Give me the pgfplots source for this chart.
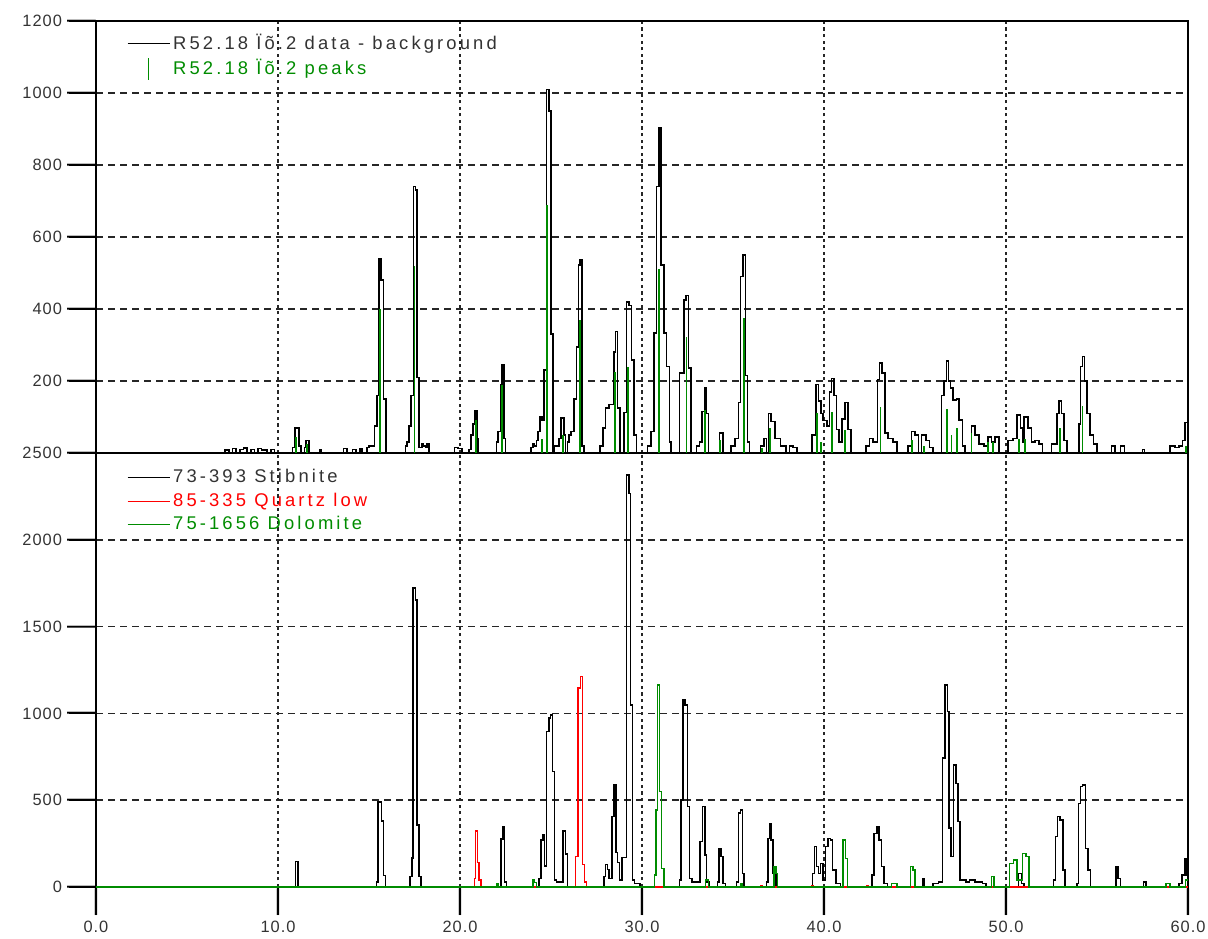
\documentclass[border=0pt]{standalone}
\usepackage{fontspec}
\setmainfont{Liberation Sans}
\newfontfamily\legfont{Liberation Sans}[LetterSpace=17]
\newfontfamily\tickfont{Liberation Sans}[LetterSpace=6]
\newfontfamily\dashfont{Liberation Sans}
\usepackage{pgfplots}
\pgfplotsset{compat=1.18}
\definecolor{pgreen}{RGB}{0,140,0}
\definecolor{pred}{RGB}{255,0,0}
% tick marks carried by the tick labels
\newcommand\ytk[1]{#1\rlap{\hspace{2.6pt}\smash{\raisebox{-0.9pt}{\textcolor{black}{\dashfont\fontsize{14.4}{15}\selectfont —}}}}}
\newcommand\xtk[1]{\setbox0\hbox{#1}\rlap{\hbox to \wd0{\hss\smash{\raisebox{11.6pt}{\textcolor{black}{\dashfont\fontsize{14.25}{15}\selectfont |}}}\hss}}\box0}

\pgfplotsset{
  xrdbase/.style={
    scale only axis, width=546pt, xmin=0, xmax=60,
    axis line style={black, line width=0.8pt},
    every tick/.style={black, line width=0.8pt},
    tick align=outside, major tick length=13.5pt,
    xtick={0,10,...,60}, tick pos=left,
    grid=major,
    x grid style={black!85, line width=0.75pt, dash pattern=on 1.6pt off 1.7pt},
    y grid style={black!85, line width=0.75pt, dash pattern=on 3.7pt off 2.3pt},
    ticklabel style={font=\tickfont\fontsize{8.2}{9.6}\selectfont, text=black!80},
    /pgf/number format/assume math mode=true,
    legend cell align=left,
    legend image code/.code={\draw[#1, line width=0.6pt] (0pt,0pt) -- (21pt,0pt);},
    legend style={draw=none, fill=none, inner sep=0pt, anchor=north west,
      font=\legfont\fontsize{9.2}{10}\selectfont, nodes={inner sep=1.5pt}},
  },
}

\begin{document}
\begin{tikzpicture}
\useasboundingbox (-48pt,-25.5pt) rectangle (556pt,443.5pt);

% ---------------- bottom panel: reference patterns ----------------
\begin{axis}[xrdbase, at={(0pt,0pt)}, anchor=south west, height=217pt,
  ymin=0, ymax=2500, ytick={0,500,...,2500},
  yticklabels={\ytk{0},\ytk{500},\ytk{1000},\ytk{1500},\ytk{2000},\ytk{2500}},
  xticklabels={\xtk{0.0},\xtk{10.0},\xtk{20.0},\xtk{30.0},\xtk{40.0},\xtk{50.0},\xtk{60.0}},
  legend style={at={(0.028,0.970)}, row sep=0.6pt},
]
\addplot[const plot, black, line width=0.75pt] table {
x y
0 0
10.85 0
10.95 146
11.1 0
15.3 0
15.4 30
15.5 490
15.7 380
15.8 65
15.9 0
17.2 0
17.25 60
17.35 167
17.42 1722
17.55 1653
17.65 357
17.75 60
17.85 0
22.15 0
22.25 276
22.35 346
22.45 30
22.55 0
24.3 0
24.35 50
24.45 270
24.55 300
24.65 120
24.75 895
24.88 973
24.98 990
25.08 664
25.18 40
25.3 30
25.65 324
25.8 190
25.9 0
27.85 0
27.9 60
28.0 130
28.1 100
28.2 50
28.35 405
28.47 588
28.56 200
28.65 140
28.75 40
28.9 170
29.15 2373
29.28 2268
29.38 1048
29.48 40
29.6 20
29.9 0
32.0 0
32.05 40
32.15 501
32.25 1078
32.35 1049
32.5 463
32.6 50
32.75 30
33.1 30
33.2 261
33.33 463
33.45 184
33.55 30
33.7 0
34.15 30
34.22 223
34.33 175
34.45 20
34.6 0
35.2 30
35.3 425
35.42 444
35.52 78
35.6 0
36.85 30
36.92 280
37.0 367
37.1 271
37.2 80
37.35 0
39.3 0
39.38 78
39.48 232
39.6 117
39.7 78
39.8 136
39.95 40
40.08 232
40.22 280
40.35 271
40.48 98
40.65 20
40.9 0
42.6 0
42.65 69
42.75 309
42.9 348
43.02 271
43.15 117
43.3 20
43.5 0
45.3 0
45.4 50
45.5 0
46.0 20
46.3 30
46.52 742
46.66 1164
46.78 1010
46.88 339
46.98 175
47.12 703
47.24 597
47.36 376
47.48 40
47.8 30
48.0 40
48.3 30
48.7 20
48.9 0
50.6 0
50.7 78
50.85 20
51.0 0
52.5 0
52.6 40
52.72 290
52.84 405
52.98 386
53.12 98
53.25 0
53.9 20
53.98 482
54.08 578
54.2 588
54.36 223
54.5 98
54.65 0
55.9 0
56.05 117
56.15 50
56.3 0
57.55 30
57.7 0
59.5 20
59.68 69
59.8 165
59.9 69
60 69
};
\addlegendentry{\textcolor{black!80}{73-393 Stibnite}}
\addplot[const plot, pred, line width=0.75pt] table {
x y
0 0
20.75 0
20.8 50
20.85 324
20.95 140
21.05 40
21.15 0
26.3 0
26.35 175
26.48 1146
26.62 1212
26.72 130
26.85 30
26.95 0
36.45 0
36.5 10
36.6 0
39.25 0
39.3 10
39.4 0
42.3 0
42.35 10
42.45 0
60 0
};
\addlegendentry{\textcolor{pred}{85-335 Quartz low}}
\addplot[const plot, pgreen, line width=0.75pt] table {
x y
0 0
21.95 0
22.0 20
22.1 0
23.95 0
24.0 40
24.1 25
24.2 0
30.6 0
30.7 70
30.78 444
30.85 1164
30.97 549
31.07 107
31.2 0
33.45 0
33.5 40
33.65 0
35.35 0
35.4 20
35.5 0
37.2 0
37.25 117
37.35 78
37.45 0
40.95 0
41.05 271
41.17 165
41.3 0
43.7 20
44.0 0
44.7 0
44.75 117
44.88 98
45.0 0
49.15 0
49.2 60
49.35 0
50.1 0
50.2 136
50.4 155
50.6 40
50.9 194
51.1 175
51.25 0
58.8 20
59.0 0
59.8 0
59.85 40
60 40
};
\addlegendentry{\textcolor{pgreen}{75-1656 Dolomite}}
\end{axis}

% ---------------- top panel: measured data ----------------
\begin{axis}[xrdbase, at={(0pt,217pt)}, anchor=south west, height=216pt,
  ymin=0, ymax=1200, ytick={200,400,...,1200},
  yticklabels={\ytk{200},\ytk{400},\ytk{600},\ytk{800},\ytk{1000},\ytk{1200}},
  xticklabels={}, major x tick style={draw=none}, xmajorticks=false,
  legend style={at={(0.028,0.978)}, row sep=0.6pt},
]
\addplot[const plot, black, line width=0.8pt] table {
x y
0 0
7.0 0
7.1 8
7.3 0
7.5 12
7.7 0
7.9 10
8.1 14
8.3 0
8.5 10
8.7 0
8.9 12
9.1 8
9.4 0
9.6 10
9.8 0
10.6 0
10.8 15
10.95 70
11.15 20
11.25 0
11.45 15
11.55 35
11.7 0
12.3 8
12.4 0
13.6 12
13.8 0
14.1 10
14.3 0
14.5 12
14.6 0
14.9 15
15.0 20
15.3 75
15.45 160
15.55 540
15.65 480
15.8 150
15.95 0
16.9 0
17.0 20
17.1 30
17.2 75
17.32 160
17.45 740
17.55 730
17.65 210
17.75 15
17.9 25
18.0 20
18.1 15
18.2 25
18.3 0
19.6 0
19.7 15
19.9 12
20.1 0
20.5 10
20.6 50
20.7 80
20.82 117
20.92 40
21.0 0
21.9 0
22.0 30
22.1 60
22.25 190
22.32 245
22.42 40
22.5 0
23.8 0
23.9 15
24.0 25
24.1 20
24.2 35
24.3 60
24.4 100
24.5 90
24.6 230
24.75 1010
24.9 950
25.0 330
25.1 0
25.2 20
25.45 40
25.55 97
25.7 50
25.8 0
25.9 30
26.0 50
26.1 60
26.25 150
26.4 295
26.52 522
26.6 536
26.7 20
26.8 0
27.6 0
27.7 20
27.85 70
28.0 125
28.2 135
28.45 280
28.55 337
28.65 125
28.8 0
29.0 112
29.15 420
29.3 410
29.42 258
29.55 50
29.7 0
30.3 20
30.5 60
30.65 333
30.8 740
30.93 903
31.05 522
31.2 333
31.35 240
31.5 30
31.6 0
32.05 222
32.3 425
32.42 437
32.55 236
32.68 0
33.0 20
33.15 30
33.3 115
33.45 180
33.55 110
33.65 0
34.15 0
34.25 55
34.45 0
34.9 20
35.1 40
35.3 140
35.42 490
35.55 550
35.68 215
35.8 30
35.9 0
36.5 20
36.7 40
36.85 0
36.95 110
37.1 88
37.3 40
37.6 20
37.9 0
38.1 20
38.3 15
38.5 0
39.3 0
39.35 50
39.55 190
39.7 144
39.82 110
39.95 90
40.15 75
40.3 170
40.42 207
40.55 160
40.68 65
40.82 30
40.98 95
41.15 140
41.32 65
41.48 0
42.2 0
42.3 20
42.5 40
42.7 30
42.95 204
43.05 250
43.2 222
43.35 55
43.5 40
43.8 30
44.0 0
44.6 20
44.8 60
45.0 50
45.2 0
45.35 50
45.6 35
45.8 15
46.0 0
46.3 0
46.45 160
46.6 200
46.72 255
46.85 200
46.95 180
47.1 147
47.28 150
47.42 92
47.6 20
47.75 0
48.0 0
48.1 75
48.3 50
48.5 25
48.8 20
49.0 45
49.2 30
49.4 45
49.6 0
50.0 0
50.1 35
50.4 40
50.6 105
50.8 70
50.9 30
51.0 100
51.2 70
51.4 30
51.6 35
51.8 25
52.0 0
52.4 0
52.5 25
52.8 110
52.92 145
53.05 110
53.2 35
53.35 0
53.9 0
54.0 80
54.1 240
54.2 268
54.32 200
54.45 110
54.6 50
54.8 25
55.0 0
55.7 0
55.8 20
56.0 0
56.3 20
56.5 0
57.5 10
57.6 0
58.9 0
59.0 20
59.3 15
59.5 20
59.7 35
59.85 85
60 85
};
\addlegendentry{\textcolor{black!80}{R52.18 Ïõ.2 data - background}}
\addplot[ycomb, pgreen, line width=0.9pt, mark=none,
  legend image code/.code={\draw[pgreen, line width=0.8pt] (10.5pt,-5.5pt) -- (10.5pt,5.5pt);}]
  table {
x y
11.0 45
11.6 25
15.6 400
17.5 520
20.86 92
22.3 190
24.5 40
24.8 690
25.65 50
26.6 370
28.5 225
29.25 240
30.95 510
32.45 322
33.45 120
34.3 35
35.6 375
36.6 15
37.05 70
39.6 110
39.85 30
40.45 115
41.15 65
43.1 127
44.85 35
45.5 20
46.75 122
47.0 50
47.3 70
48.1 55
49.0 30
49.3 30
50.7 40
51.05 40
52.95 70
54.2 130
59.9 20
};
\addlegendentry{\textcolor{pgreen}{R52.18 Ïõ.2 peaks}}
\end{axis}
\end{tikzpicture}
\end{document}
